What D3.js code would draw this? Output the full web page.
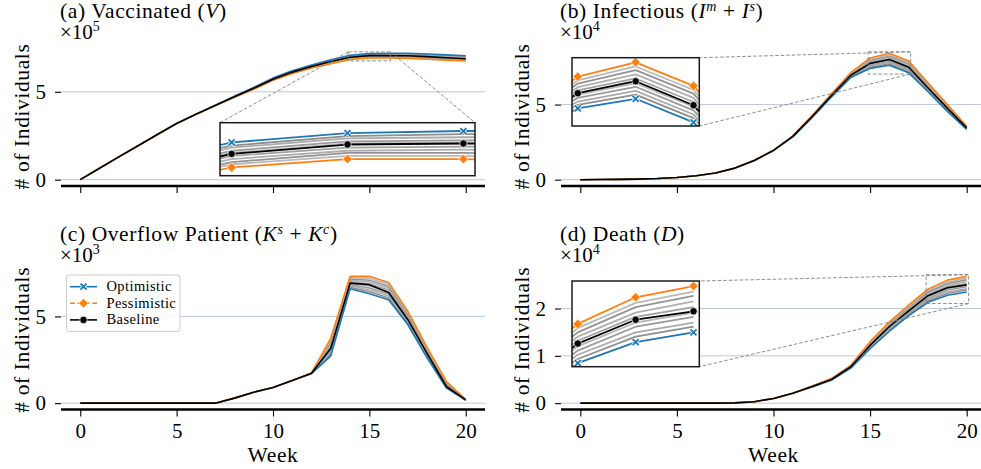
<!DOCTYPE html>
<html><head><meta charset="utf-8">
<script src="https://cdn.jsdelivr.net/npm/d3@7"></script>
<style>body{margin:0;background:#fff}svg{display:block}svg text{font-family:"Liberation Serif",serif}</style>
</head><body>
<script>
// ---------------- data ----------------
const weeks = [0,1,2,3,4,5,6,7,8,9,10,11,12,13,14,15,16,17,18,19,20];
const xTicks = [0,5,10,15,20];
const legendLabels = ["Optimistic","Pessimistic","Baseline"];

// (a) Vaccinated (x10^5)
const vacYTicks = [0,5];
const vacOptimistic  = [0,0.65,1.3,1.93,2.57,3.2,3.73,4.24,4.75,5.25,5.78,6.2,6.52,6.82,7.08,7.17,7.19,7.19,7.15,7.1,7.05];
const vacPessimistic = [0,0.65,1.3,1.93,2.57,3.2,3.71,4.2,4.69,5.15,5.66,6.04,6.36,6.6,6.84,6.92,6.92,6.9,6.85,6.8,6.75];
const vacBaseline    = [0,0.65,1.3,1.93,2.57,3.2,3.72,4.22,4.72,5.2,5.72,6.12,6.44,6.72,6.97,7.06,7.07,7.05,7.0,6.94,6.88];
const vacScenarioStart = 8;
const vacScenarios = [
  [4.74,5.24,5.77,6.18,6.50,6.80,7.05,7.14,7.16,7.16,7.12,7.07,7.02],
  [4.74,5.23,5.75,6.16,6.48,6.77,7.03,7.12,7.13,7.13,7.08,7.03,6.98],
  [4.73,5.22,5.74,6.15,6.47,6.75,7.00,7.09,7.10,7.09,7.05,7.00,6.95],
  [4.72,5.21,5.73,6.13,6.45,6.72,6.98,7.07,7.08,7.06,7.02,6.97,6.92],
  [4.72,5.19,5.71,6.11,6.43,6.70,6.95,7.03,7.04,7.03,6.98,6.93,6.88],
  [4.71,5.18,5.70,6.09,6.41,6.67,6.92,7.00,7.01,7.00,6.95,6.90,6.85],
  [4.70,5.17,5.69,6.08,6.40,6.65,6.89,6.98,6.98,6.96,6.92,6.87,6.82],
  [4.70,5.16,5.67,6.06,6.38,6.62,6.87,6.95,6.95,6.93,6.88,6.83,6.78]
];

// (b) Infectious (x10^4)
const infYTicks = [0,5];
const infOptimistic  = [0,0.01,0.02,0.04,0.08,0.15,0.26,0.45,0.76,1.26,1.93,2.85,4.15,5.5,6.8,7.41,7.62,7.11,5.85,4.55,3.35];
const infPessimistic = [0,0.01,0.02,0.04,0.08,0.15,0.26,0.45,0.78,1.3,1.97,2.92,4.25,5.72,7.12,8.10,8.41,7.90,6.45,5.0,3.55];
const infBaseline    = [0,0.01,0.02,0.04,0.08,0.15,0.26,0.45,0.77,1.28,1.95,2.88,4.2,5.6,6.95,7.74,8.0,7.48,6.1,4.75,3.45];
const infScenarioStart = 11;
const infScenarios = [
  [2.86,4.16,5.52,6.84,7.49,7.71,7.20,5.92,4.60,3.37],
  [2.87,4.17,5.55,6.87,7.56,7.79,7.28,5.98,4.65,3.39],
  [2.87,4.18,5.57,6.91,7.64,7.88,7.37,6.05,4.70,3.42],
  [2.88,4.19,5.60,6.94,7.71,7.96,7.45,6.11,4.75,3.44],
  [2.89,4.21,5.62,6.98,7.80,8.06,7.55,6.19,4.80,3.46],
  [2.90,4.22,5.65,7.01,7.87,8.15,7.64,6.25,4.85,3.48],
  [2.90,4.23,5.67,7.05,7.95,8.24,7.73,6.32,4.90,3.51],
  [2.91,4.24,5.70,7.08,8.02,8.32,7.81,6.38,4.95,3.53]
];

// (c) Overflow Patient (x10^3)
const ovfYTicks = [0,5];
const ovfOptimistic  = [0,0,0,0,0,0,0,0,0.29,0.63,0.9,1.31,1.70,2.73,6.6,6.31,5.96,4.52,2.6,0.87,0.18];
const ovfPessimistic = [0,0,0,0,0,0,0,0,0.29,0.63,0.9,1.31,1.75,3.75,7.31,7.31,6.96,5.29,3.2,1.25,0.2];
const ovfBaseline    = [0,0,0,0,0,0,0,0,0.29,0.63,0.9,1.31,1.73,3.17,6.92,6.83,6.38,4.81,2.85,0.96,0.19];
const ovfScenarioStart = 12;
const ovfScenarios = [
  [1.71,2.84,6.68,6.42,6.07,4.60,2.67,0.91,0.18],
  [1.71,2.95,6.76,6.53,6.18,4.69,2.73,0.95,0.18],
  [1.72,3.07,6.83,6.64,6.29,4.77,2.80,1.00,0.19],
  [1.72,3.18,6.91,6.75,6.40,4.86,2.86,1.04,0.19],
  [1.73,3.30,7.00,6.87,6.52,4.95,2.94,1.08,0.19],
  [1.73,3.41,7.08,6.98,6.63,5.04,3.00,1.12,0.19],
  [1.74,3.53,7.15,7.09,6.74,5.12,3.07,1.17,0.20],
  [1.74,3.64,7.23,7.20,6.85,5.21,3.13,1.21,0.20]
];

// (d) Death (x10^4)
const dthYTicks = [0,1,2];
const dthOptimistic  = [0,0,0,0,0,0,0,0,0.005,0.03,0.1,0.21,0.34,0.49,0.74,1.15,1.52,1.85,2.13,2.28,2.35];
const dthPessimistic = [0,0,0,0,0,0,0,0,0.005,0.03,0.1,0.21,0.36,0.52,0.8,1.3,1.72,2.07,2.41,2.60,2.68];
const dthBaseline    = [0,0,0,0,0,0,0,0,0.005,0.03,0.1,0.21,0.35,0.5,0.77,1.22,1.62,1.95,2.27,2.44,2.50];
const dthScenarioStart = 12;
const dthScenarios = [
  [0.34,0.49,0.75,1.17,1.54,1.87,2.16,2.32,2.39],
  [0.34,0.50,0.75,1.18,1.56,1.90,2.19,2.35,2.42],
  [0.35,0.50,0.76,1.20,1.59,1.92,2.22,2.39,2.46],
  [0.35,0.50,0.77,1.21,1.61,1.94,2.25,2.42,2.49],
  [0.35,0.51,0.77,1.23,1.63,1.97,2.29,2.46,2.53],
  [0.35,0.51,0.78,1.25,1.65,1.99,2.32,2.49,2.57],
  [0.36,0.51,0.79,1.27,1.68,2.02,2.35,2.53,2.61],
  [0.36,0.52,0.79,1.28,1.70,2.04,2.38,2.56,2.64]
];

// ---------------- layout / style ----------------
const FONT="Liberation Serif";
const BLUE="#1f77b4", ORANGE="#ff7f0e", BLACK="#000000";
const greyShades=["#8e8e8e","#aaaaaa","#9a9a9a","#b5b5b5","#a0a0a0","#afafaf","#939393","#b9b9b9"];
const cols=[{l:61,r:485},{l:561,r:986}];
const rows=[{t:47,b:186},{t:270,b:409.5}];

const panels=[
  {title:[{t:"(a) Vaccinated ("},{t:"V",i:1},{t:")"}], exp:"5",
   opt:vacOptimistic,pes:vacPessimistic,base:vacBaseline,grey:vacScenarios,gs:vacScenarioStart,yTicks:vacYTicks,col:0,row:0,
   inset:{box:[220,122.7,475,175.7],xd:[13.9,16.1],yd:[6.76,7.27],corners:["tl","tr"]}},
  {title:[{t:"(b) Infectious ("},{t:"I",i:1},{t:"m",i:1,s:1},{t:" + "},{t:"I",i:1},{t:"s",i:1,s:1},{t:")"}], exp:"4",
   opt:infOptimistic,pes:infPessimistic,base:infBaseline,grey:infScenarios,gs:infScenarioStart,yTicks:infYTicks,col:1,row:0,
   inset:{box:[572,57.7,699.3,126],xd:[14.9,17.1],yd:[7.03,8.51],corners:["tr","br"]}},
  {title:[{t:"(c) Overflow Patient ("},{t:"K",i:1},{t:"s",i:1,s:1},{t:" + "},{t:"K",i:1},{t:"c",i:1,s:1},{t:")"}], exp:"3",
   opt:ovfOptimistic,pes:ovfPessimistic,base:ovfBaseline,grey:ovfScenarios,gs:ovfScenarioStart,yTicks:ovfYTicks,col:0,row:1,
   inset:null, legend:true},
  {title:[{t:"(d) Death ("},{t:"D",i:1},{t:")"}], exp:"4",
   opt:dthOptimistic,pes:dthPessimistic,base:dthBaseline,grey:dthScenarios,gs:dthScenarioStart,yTicks:dthYTicks,col:1,row:1,
   inset:{box:[572,281,699.3,366.7],xd:[17.9,20.1],yd:[2.105,2.716],corners:["tr","br"]}}
];

const svg=d3.select("body").append("svg").attr("width",981).attr("height",469).attr("font-family",FONT);

const pts=(arr,start)=>arr.map((v,k)=>({w:weeks[start+k],v}));

function drawLines(g,xs,ys,p,widths){
  const line=d3.line().x(d=>xs(d.w)).y(d=>ys(d.v));
  p.grey.forEach((s,k)=>{
    g.append("path").datum(pts(s,p.gs)).attr("d",line).attr("fill","none")
      .attr("stroke",greyShades[k%greyShades.length]).attr("stroke-width",widths.grey).attr("stroke-linejoin","round");
  });
  [[p.opt,BLUE],[p.pes,ORANGE],[p.base,BLACK]].forEach(([s,c])=>{
    g.append("path").datum(pts(s,0)).attr("d",line).attr("fill","none")
      .attr("stroke",c).attr("stroke-width",widths.main).attr("stroke-linejoin","round");
  });
}

function marker(g,kind,cx,cy){
  if(kind==="x"){
    const d="M-3,-3L3,3M-3,3L3,-3";
    g.append("path").attr("d",d).attr("transform",`translate(${cx},${cy})`).attr("stroke","#fff").attr("stroke-width",3.4).attr("fill","none");
    g.append("path").attr("d",d).attr("transform",`translate(${cx},${cy})`).attr("stroke",BLUE).attr("stroke-width",1.8).attr("fill","none");
  } else if(kind==="D"){
    g.append("path").attr("d","M0,-4.8L4.8,0L0,4.8L-4.8,0Z").attr("transform",`translate(${cx},${cy})`)
      .attr("fill",ORANGE).attr("stroke","#fff").attr("stroke-width",0.7);
  } else {
    g.append("circle").attr("cx",cx).attr("cy",cy).attr("r",3.7).attr("fill",BLACK).attr("stroke","#fff").attr("stroke-width",0.7);
  }
}

function txt(sel){ return sel.attr("font-family",FONT).attr("fill","#000"); }

panels.forEach((p,pi)=>{
  const c=cols[p.col], r=rows[p.row];
  const x=d3.scaleLinear().domain([-1,21]).range([c.l,c.r]);
  const all=[...p.opt,...p.pes,...p.base,...p.grey.flat()];
  const lo=d3.min(all), hi=d3.max(all), pad=(hi-lo)*0.05;
  const y=d3.scaleLinear().domain([lo-pad,hi+pad]).range([r.b,r.t]);
  const g=svg.append("g");

  // grid
  g.selectAll(null).data(p.yTicks).join("line")
    .attr("x1",c.l).attr("x2",c.r).attr("y1",d=>y(d)).attr("y2",d=>y(d))
    .attr("stroke","#b9cad8").attr("stroke-width",1);

  // y axis (ticks only, no spine)
  const ya=g.append("g").attr("transform",`translate(${c.l},0)`)
    .call(d3.axisLeft(y).tickValues(p.yTicks).tickSize(6).tickPadding(9).tickFormat(d3.format("d")));
  ya.select(".domain").remove();
  ya.attr("font-family",FONT);
  ya.selectAll(".tick line").attr("stroke","#000").attr("stroke-width",1.1);
  txt(ya.selectAll(".tick text")).attr("font-size",21);

  // x axis
  const xa=g.append("g").attr("transform",`translate(0,${r.b})`)
    .call(d3.axisBottom(x).tickValues(xTicks).tickSize(7).tickPadding(7)
      .tickFormat(p.row===1?d3.format("d"):()=>""));
  xa.select(".domain").remove();
  xa.attr("font-family",FONT);
  xa.selectAll(".tick line").attr("stroke","#000").attr("stroke-width",1.1);
  txt(xa.selectAll(".tick text")).attr("font-size",21);

  // plot lines
  const clipId="clip"+pi;
  svg.append("clipPath").attr("id",clipId).append("rect").attr("x",c.l).attr("y",r.t-5).attr("width",c.r-c.l).attr("height",r.b-r.t+5);
  const pg=g.append("g").attr("clip-path",`url(#${clipId})`);
  drawLines(pg,x,y,p,{grey:1.5,main:1.6});

  // bottom spine
  g.append("line").attr("x1",c.l).attr("x2",c.r).attr("y1",r.b).attr("y2",r.b).attr("stroke","#000").attr("stroke-width",2.6);

  // title
  const tt=txt(g.append("text")).attr("x",c.l-1).attr("y",r.t-29).attr("font-size",21.5).attr("letter-spacing",0.6);
  let shifted=false;
  p.title.forEach(s=>{
    const ts=tt.append("tspan").text(s.t);
    if(s.i) ts.attr("font-style","italic");
    if(s.s){ ts.attr("font-size",14).attr("dy",-7); shifted=true; }
    else if(shifted){ ts.attr("dy",7); shifted=false; }
  });
  // offset text
  const ot=txt(g.append("text")).attr("x",c.l-1).attr("y",r.t-8).attr("font-size",21);
  ot.append("tspan").text("×10");
  ot.append("tspan").text(p.exp).attr("font-size",14).attr("dy",-8);

  // y label
  txt(g.append("text")).attr("transform",`translate(${c.l-32},${(r.t+r.b)/2}) rotate(-90)`)
    .attr("text-anchor","middle").attr("font-size",21.5).attr("letter-spacing",0.6).text("# of Individuals");

  // x label
  if(p.row===1){
    txt(g.append("text")).attr("x",(c.l+c.r)/2).attr("y",462).attr("text-anchor","middle")
      .attr("font-size",21.5).attr("letter-spacing",0.6).text("Week");
  }

  // inset
  if(p.inset){
    const ins=p.inset, b=ins.box;
    const xi=d3.scaleLinear().domain(ins.xd).range([b[0],b[2]]);
    const yi=d3.scaleLinear().domain(ins.yd).range([b[3],b[1]]);
    const mx0=x(ins.xd[0]), mx1=x(ins.xd[1]), my0=y(ins.yd[1]), my1=y(ins.yd[0]);
    const cornerMain={tl:[mx0,my0],tr:[mx1,my0],br:[mx1,my1],bl:[mx0,my1]};
    const cornerIns={tl:[b[0],b[1]],tr:[b[2],b[1]],br:[b[2],b[3]],bl:[b[0],b[3]]};
    ins.corners.forEach(k=>{
      g.append("line").attr("x1",cornerMain[k][0]).attr("y1",cornerMain[k][1])
        .attr("x2",cornerIns[k][0]).attr("y2",cornerIns[k][1])
        .attr("stroke","#808080").attr("stroke-width",0.9).attr("stroke-dasharray","3.5,2");
    });
    g.append("rect").attr("x",mx0).attr("y",my0).attr("width",mx1-mx0).attr("height",my1-my0)
      .attr("fill","none").attr("stroke","#808080").attr("stroke-width",0.9).attr("stroke-dasharray","3.5,2");

    const cid="iclip"+pi;
    svg.append("clipPath").attr("id",cid).append("rect").attr("x",b[0]).attr("y",b[1]).attr("width",b[2]-b[0]).attr("height",b[3]-b[1]);
    g.append("rect").attr("x",b[0]).attr("y",b[1]).attr("width",b[2]-b[0]).attr("height",b[3]-b[1]).attr("fill","#fff");
    const ig=g.append("g").attr("clip-path",`url(#${cid})`);
    drawLines(ig,xi,yi,p,{grey:1.8,main:1.8});
    const inRange=d=>d.w>=ins.xd[0]&&d.w<=ins.xd[1];
    pts(p.opt,0).filter(inRange).forEach(d=>marker(ig,"x",xi(d.w),yi(d.v)));
    pts(p.pes,0).filter(inRange).forEach(d=>marker(ig,"D",xi(d.w),yi(d.v)));
    pts(p.base,0).filter(inRange).forEach(d=>marker(ig,"o",xi(d.w),yi(d.v)));
    g.append("rect").attr("x",b[0]).attr("y",b[1]).attr("width",b[2]-b[0]).attr("height",b[3]-b[1])
      .attr("fill","none").attr("stroke","#1a1a1a").attr("stroke-width",1.5);
  }

  // legend
  if(p.legend){
    const lg=g.append("g");
    lg.append("rect").attr("x",66.5).attr("y",275).attr("width",113.5).attr("height",56.5).attr("rx",3)
      .attr("fill","#fff").attr("fill-opacity",0.85).attr("stroke","#cccccc").attr("stroke-width",1);
    const items=[[BLUE,"x",null],[ORANGE,"D","5,2.4"],[BLACK,"o",null]];
    items.forEach((it,k)=>{
      const yy=286.7+k*16.6;
      const ln=lg.append("line").attr("x1",70).attr("x2",97).attr("y1",yy).attr("y2",yy).attr("stroke",it[0]).attr("stroke-width",1.6);
      if(it[2]) ln.attr("stroke-dasharray",it[2]);
      marker(lg,it[1],83.5,yy);
      txt(lg.append("text")).attr("x",106.5).attr("y",yy+4.5).attr("font-size",14.5).attr("letter-spacing",0.4).text(legendLabels[k]);
    });
  }
});
</script>
</body></html>
